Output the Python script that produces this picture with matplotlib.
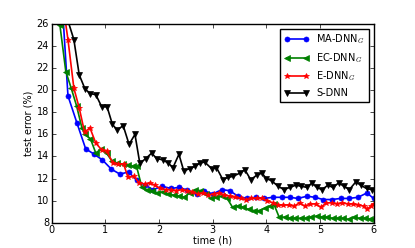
import matplotlib
matplotlib.use('Agg')
import matplotlib.pyplot as plt

# MA-DNN_G (blue circles)
ma_t = [0.14, 0.30, 0.47, 0.63, 0.79, 0.94, 1.11, 1.27, 1.43, 1.58, 1.74, 1.89, 2.06, 2.22, 2.37,
        2.53, 2.70, 2.84, 3.00, 3.17, 3.32, 3.47, 3.64, 3.81, 3.96, 4.12, 4.29, 4.44, 4.59, 4.76,
        4.91, 5.06, 5.22, 5.39, 5.54, 5.71, 5.88, 6.00]
ma_err = [32.0, 19.5, 17.0, 14.7, 14.2, 13.7, 12.85, 12.4, 12.6, 11.85, 11.4, 11.0, 11.3, 11.1, 11.2,
          10.95, 10.6, 10.9, 10.6, 11.0, 10.9, 10.4, 10.2, 10.3, 10.2, 10.3, 10.3, 10.3, 10.2, 10.4,
          10.3, 10.1, 10.1, 10.2, 10.2, 10.3, 10.7, 10.2]

# EC-DNN_G (green left triangles)
ec_t = [0.05, 0.15, 0.26, 0.36, 0.46, 0.56, 0.62, 0.72, 0.82, 0.92, 1.02, 1.12, 1.22, 1.32, 1.42,
        1.52, 1.58, 1.68, 1.77, 1.87, 1.97, 2.07, 2.17, 2.27, 2.37, 2.47, 2.57, 2.67, 2.77, 2.87,
        2.97, 3.07, 3.17, 3.27, 3.37, 3.47, 3.57, 3.67, 3.77, 3.87, 3.97, 4.07, 4.14, 4.24, 4.34,
        4.44, 4.54, 4.64, 4.74, 4.84, 4.94, 5.04, 5.14, 5.24, 5.34, 5.44, 5.54, 5.64, 5.74, 5.84,
        5.94, 6.00]
ec_err = [32.0, 25.9, 21.7, 20.2, 18.6, 16.6, 16.0, 15.6, 14.3, 14.7, 14.3, 13.6, 13.4, 13.3, 13.2,
          13.1, 13.1, 11.2, 11.0, 10.9, 10.7, 10.8, 10.6, 10.5, 10.4, 10.3, 10.7, 11.0, 10.9, 10.6,
          10.2, 10.3, 10.4, 10.2, 9.4, 9.5, 9.4, 9.2, 9.1, 9.1, 9.3, 9.5, 9.7, 8.5, 8.5,
          8.4, 8.4, 8.4, 8.4, 8.5, 8.6, 8.5, 8.5, 8.4, 8.4, 8.4, 8.3, 8.5, 8.4, 8.4,
          8.3, 8.3]

# E-DNN_G (red stars)
e_t = [0.20, 0.30, 0.41, 0.51, 0.61, 0.71, 0.82, 0.93, 1.02, 1.14, 1.23, 1.34, 1.42, 1.53, 1.63,
       1.74, 1.83, 1.92, 2.02, 2.12, 2.22, 2.32, 2.42, 2.52, 2.62, 2.72, 2.82, 2.92, 3.02, 3.12,
       3.22, 3.32, 3.42, 3.52, 3.62, 3.72, 3.82, 3.92, 4.02, 4.12, 4.22, 4.32, 4.42, 4.52, 4.62,
       4.72, 4.82, 4.92, 5.02, 5.12, 5.22, 5.32, 5.42, 5.52, 5.62, 5.72, 5.82, 5.88, 5.95, 6.00]
e_err = [28.0, 24.6, 20.2, 18.4, 16.2, 16.6, 15.2, 14.6, 14.5, 13.4, 13.3, 13.3, 12.1, 12.2, 11.6,
         11.5, 11.6, 11.4, 11.1, 11.0, 11.0, 10.9, 11.0, 10.9, 10.8, 10.6, 10.7, 10.5, 10.6, 10.7,
         10.5, 10.4, 10.3, 10.2, 10.1, 10.2, 10.2, 10.2, 10.0, 9.8, 9.6, 9.6, 9.6, 9.5, 9.8,
         9.5, 9.7, 9.7, 9.4, 9.8, 9.8, 9.7, 9.8, 9.7, 9.7, 9.6, 9.5, 9.2, 9.5, 9.7]

# S-DNN (black down triangles)
s_t = [0.19, 0.30, 0.41, 0.51, 0.62, 0.72, 0.82, 0.93, 1.03, 1.13, 1.22, 1.33, 1.44, 1.55, 1.64,
       1.75, 1.86, 1.96, 2.07, 2.17, 2.26, 2.37, 2.46, 2.57, 2.67, 2.76, 2.85, 2.98, 3.07, 3.19,
       3.28, 3.38, 3.51, 3.60, 3.71, 3.82, 3.92, 4.00, 4.10, 4.22, 4.33, 4.44, 4.55, 4.65, 4.76,
       4.85, 4.94, 5.04, 5.15, 5.24, 5.35, 5.45, 5.55, 5.67, 5.76, 5.87, 5.97]
s_err = [34.0, 26.3, 24.6, 21.4, 20.1, 19.7, 19.6, 18.5, 18.5, 16.9, 16.4, 16.8, 15.1, 16.0, 13.4,
         13.8, 14.3, 13.8, 13.7, 13.4, 13.0, 14.2, 12.7, 12.9, 13.1, 13.4, 13.5, 12.9, 13.0, 11.9,
         12.1, 12.2, 12.5, 12.8, 11.9, 12.3, 12.5, 12.0, 11.8, 11.3, 11.0, 11.2, 11.4, 11.3, 11.2,
         11.6, 11.2, 11.0, 11.4, 11.2, 11.6, 11.3, 11.0, 11.7, 11.4, 11.1, 11.0]

plt.style.use('classic')
plt.rcParams['font.family'] = 'DejaVu Sans'
plt.rcParams['font.size'] = 7

fig = plt.figure(figsize=(4.15, 2.48), dpi=100)
ax = fig.add_axes([0.125, 0.102, 0.775, 0.801])

ax.plot(ma_t, ma_err, 'b-o', lw=1.2, ms=3.6, mec='b', label='MA-DNN$_G$')
ax.plot(ec_t, ec_err, '-<', color='g', lw=1.2, ms=4, mec='g', label='EC-DNN$_G$')
ax.plot(e_t, e_err, 'r-*', lw=1.2, ms=4, mec='r', label='E-DNN$_G$')
ax.plot(s_t, s_err, 'k-v', lw=1.2, ms=4, mec='k', label='S-DNN')

ax.set_xlim(0, 6)
ax.set_ylim(8, 26)
ax.set_xticks(range(0, 7))
ax.set_yticks(range(8, 27, 2))
ax.tick_params(labelsize=7, length=3, pad=2)
ax.set_xlabel('time (h)', fontsize=7, labelpad=0)
ax.set_ylabel('test error (%)', fontsize=7, labelpad=2)

ax.legend(loc='upper right', fontsize=7, numpoints=2, handlelength=2.5,
          borderaxespad=0.5, labelspacing=0.5)

fig.savefig('out.png', dpi=100)
